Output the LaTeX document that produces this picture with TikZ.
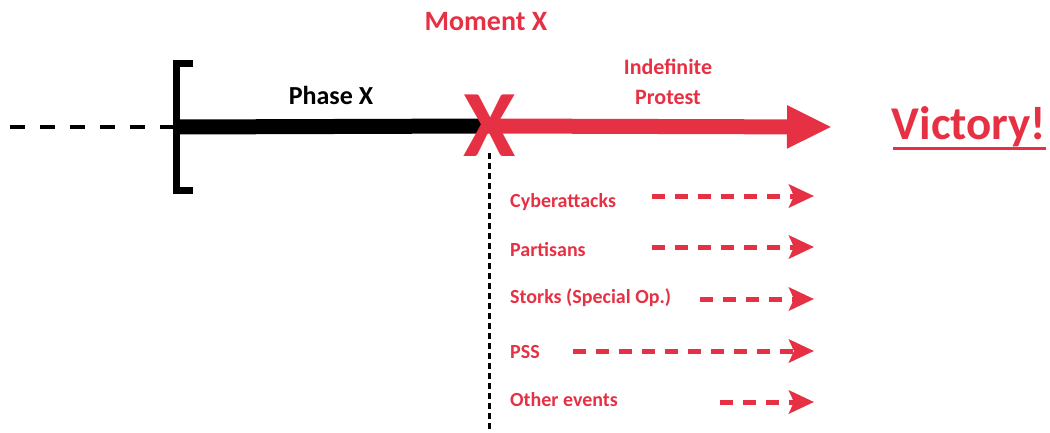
\documentclass[tikz,border=0pt]{standalone}
\usepackage{fontspec}
\setmainfont{Carlito}
\usetikzlibrary{arrows.meta}
\definecolor{xred}{HTML}{E63145}
\tikzset{
  redlbl/.style={text=xred, font=\bfseries\fontsize{20}{24}\selectfont, inner sep=0pt, anchor=west},
  dasharrow/.style={draw=xred, line width=5pt, dash pattern=on 13pt off 10pt,
    -{Stealth[length=25pt,width=23pt,inset=5pt]}},
}
\begin{document}
\begin{tikzpicture}[x=1pt,y=-1pt]
\useasboundingbox (0,0) rectangle (1050,432);
% left dashed lead-in
\coordinate (lstart) at (10,127);
\coordinate (bmid) at (176.5,127);
\draw[line width=4.5pt, dash pattern=on 15pt off 15pt] (lstart) -- (bmid);
% bracket
\coordinate (btop) at (193,63.5);
\coordinate (bbot) at (193,190.5);
\draw[line width=7pt, miter limit=10] (btop) -- (176.5,63.5) -- (176.5,190.5) -- (bbot);
% moment X
\coordinate (mxc) at (488,126);
% phase line
\draw[line width=15pt] (bmid) -- (mxc);
% red main arrow
\coordinate (tip) at (832,127);
\draw[xred, line width=15pt, -{Triangle[length=45pt,width=40pt]}] (mxc) -- (tip);
\node[text=xred, font=\bfseries\fontsize{95}{100}\selectfont, inner sep=0pt] (mx) at (490,126) {X};
% dotted drop line
\coordinate (dbot) at (489,432);
\draw[line width=3pt, dash pattern=on 6pt off 4pt] (489,153) -- (dbot);
% labels
\node[font=\bfseries\fontsize{26}{30}\selectfont, inner sep=0pt] (phase) at (331,95) {Phase X};
\node[text=xred, font=\bfseries\fontsize{28}{32}\selectfont, inner sep=0pt] (moment) at (486,22) {Moment X};
\node[text=xred, font=\bfseries\fontsize{22}{30}\selectfont, align=center, inner sep=0pt] (indef) at (668,82) {Indefinite\\Protest};
\node[text=xred, font=\bfseries\fontsize{47}{50}\selectfont, inner sep=0pt] (vic) at (969,127) {Victory!};
\draw[xred, line width=3pt] (893,148) -- (1046,148);
% sub-events
\node[redlbl] (cy) at (510,202) {Cyberattacks};
\node[redlbl] (pa) at (510,250) {Partisans};
\node[redlbl] (st) at (510,298) {Storks (Special Op.)};
\node[redlbl] (ps) at (510,352) {PSS};
\node[redlbl] (ot) at (510,400) {Other events};
\coordinate (cyS) at (652,196); \coordinate (cyE) at (814,196);
\coordinate (paS) at (652,247); \coordinate (paE) at (814,247);
\coordinate (stS) at (700,299); \coordinate (stE) at (814,299);
\coordinate (psS) at (573,351); \coordinate (psE) at (814,351);
\coordinate (otS) at (720,402); \coordinate (otE) at (814,402);
\draw[dasharrow] (cyS) -- (cyE);
\draw[dasharrow] (paS) -- (paE);
\draw[dasharrow] (stS) -- (stE);
\draw[dasharrow] (psS) -- (psE);
\draw[dasharrow] (otS) -- (otE);
\end{tikzpicture}
\end{document}
